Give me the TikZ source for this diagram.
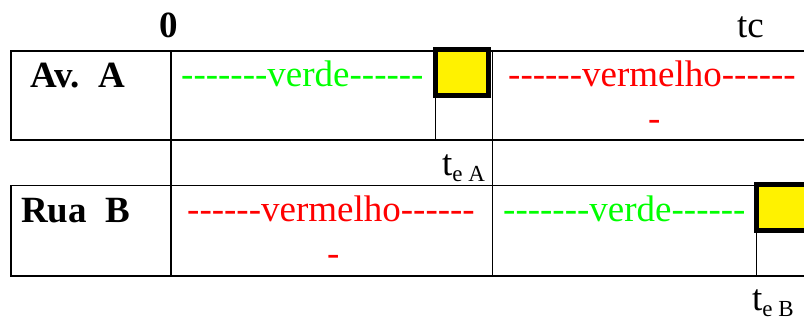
\documentclass[tikz,border=0pt]{standalone}
\usepackage{fontspec}
\setmainfont{Liberation Serif}[Ligatures=TeXOff]
\tikzset{
      frame/.style={draw=black, line width=1.6},
      amber/.style={draw=black, fill=yellow, line width=5, minimum width=53, minimum height=46, inner sep=0, outer sep=0},
      lbl/.style={anchor=base west, inner sep=0, font=\fontsize{37}{44}\selectfont},
      go/.style={lbl, text={rgb,255:red,0;green,255;blue,0}},
      stop/.style={lbl, text={rgb,255:red,255;green,0;blue,0}},
}
\newcommand{\tsub}[1]{t\raisebox{-5.5pt}{\fontsize{23}{23}\selectfont #1}}

\begin{document}
\begin{tikzpicture}[x=1pt, y=-1pt]
        \clip (0,0) rectangle (804,320);

        % Draw the time marks
        \node[lbl, font=\fontsize{37}{44}\selectfont\bfseries] (zero) at (159,38) {0};
        \node[lbl] (tc) at (737,38) {tc};

        % Draw the rows
        \coordinate (rowA) at (0,140);
        \coordinate (rowB) at (0,276);
        \draw[frame] (820,51) -- (11,51) -- (11,140) -- (820,140);
        \draw[frame] (820,185.5) -- (11,185.5) -- (11,276) -- (820,276);
        \draw[frame] (171,51) -- (171,276);
        \draw[frame] (492.5,51) -- (492.5,276);

        % Av. A
        \node[lbl, font=\fontsize{37}{44}\selectfont\bfseries] (avA) at (30,88) {Av.\ \ A};
        \node[go] (verdeA) at (181,87) {-------verde------};
        \node[stop] (vermA) at (508,87) {------vermelho------};
        \node[stop] (vermAb) at (648,131) {-};
        \node[amber] (boxA) at (462,72.5) {};
        \draw[frame] (boxA.south west) -- (boxA.south west |- rowA);
        \node[lbl] (teA) at (442,176) {\tsub{e A}};

        % Rua B
        \node[lbl, font=\fontsize{37}{44}\selectfont\bfseries] (ruaB) at (21,223) {Rua\ \ B};
        \node[stop] (vermB) at (187,222) {------vermelho------};
        \node[stop] (vermBb) at (327,266) {-};
        \node[go] (verdeB) at (503,222) {-------verde------};
        \node[amber] (boxB) at (783,207.7) {};
        \draw[frame] (boxB.south west) -- (boxB.south west |- rowB);
        \node[lbl] (teB) at (752,311) {\tsub{e B}};

    \end{tikzpicture}
\end{document}
